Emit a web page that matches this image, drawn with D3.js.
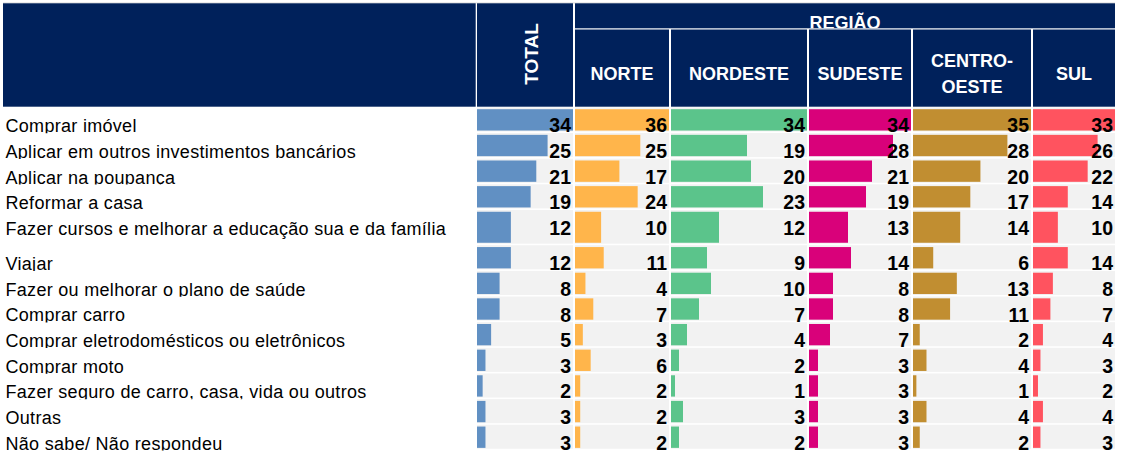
<!DOCTYPE html>
<html>
<head>
<meta charset="utf-8">
<script src="https://cdn.jsdelivr.net/npm/d3@7"></script>
<style>
  html, body { margin: 0; padding: 0; background: #ffffff; }
  svg { display: block; font-family: "Liberation Sans", Arial, sans-serif; }
</style>
</head>
<body>
<div id="chart"></div>
<script>
// ---------------- DATA ----------------
const categories = [
  "Comprar imóvel",
  "Aplicar em outros investimentos bancários",
  "Aplicar na poupança",
  "Reformar a casa",
  "Fazer cursos e melhorar a educação sua e da família",
  "Viajar",
  "Fazer ou melhorar o plano de saúde",
  "Comprar carro",
  "Comprar eletrodomésticos ou eletrônicos",
  "Comprar moto",
  "Fazer seguro de carro, casa, vida ou outros",
  "Outras",
  "Não sabe/ Não respondeu"
];
const seriesNames = ["TOTAL", "NORTE", "NORDESTE", "SUDESTE", "CENTRO-OESTE", "SUL"];
const groupLabel = "REGIÃO";

const total       = [34, 25, 21, 19, 12, 12, 8, 8, 5, 3, 2, 3, 3];
const norte       = [36, 25, 17, 24, 10, 11, 4, 7, 3, 6, 2, 2, 2];
const nordeste    = [34, 19, 20, 23, 12, 9, 10, 7, 4, 2, 1, 3, 2];
const sudeste     = [34, 28, 21, 19, 13, 14, 8, 8, 7, 3, 3, 3, 3];
const centroOeste = [35, 28, 20, 17, 14, 6, 13, 11, 2, 4, 1, 4, 2];
const sul         = [33, 26, 22, 14, 10, 14, 8, 7, 4, 3, 2, 4, 3];

const seriesValues = [total, norte, nordeste, sudeste, centroOeste, sul];

// ---------------- LAYOUT ----------------
const W = 1122, H = 460;
const navy = "#00215b";
const rowBg = "#f2f2f2";
const colors = ["#6190c3", "#ffb54b", "#5bc48b", "#d9017a", "#c18e31", "#ff535f"];

const colLeft  = [477, 575, 671, 809, 913, 1033];
const colRight = [573, 669, 807, 911, 1031, 1115];

const headTop = 3.3, headBottom = 106.7, regiaoLine = 28.3;
const bodyTop = 107;
const normalRowH = 25.64, tallRowH = 35.3;
const rowHeights = categories.map((c, i) => i === 4 ? tallRowH : normalRowH);
const rowTops = rowHeights.map((h, i) => bodyTop + d3.sum(rowHeights.slice(0, i)));

const yTop = d3.scaleOrdinal().domain(categories).range(rowTops);
const yH   = d3.scaleOrdinal().domain(categories).range(rowHeights);

const svg = d3.select("#chart").append("svg")
  .attr("width", W).attr("height", H)
  .attr("viewBox", `0 0 ${W} ${H}`);

// ---------------- HEADER ----------------
const head = svg.append("g");
head.append("line").attr("x1", 3).attr("x2", colRight[5]).attr("y1", headTop - 0.3).attr("y2", headTop - 0.3)
  .attr("stroke", "#d9d9d9").attr("stroke-width", 1);
// left block
head.append("rect").attr("x", 3).attr("y", headTop).attr("width", 475.7 - 3).attr("height", headBottom - headTop).attr("fill", navy);
// total block
head.append("rect").attr("x", colLeft[0]).attr("y", headTop).attr("width", colRight[0] - colLeft[0]).attr("height", headBottom - headTop).attr("fill", navy);
// REGIÃO block
head.append("rect").attr("x", colLeft[1]).attr("y", headTop).attr("width", colRight[5] - colLeft[1]).attr("height", regiaoLine - headTop).attr("fill", navy);
// sub-headers
for (let i = 1; i < 6; i++) {
  head.append("rect").attr("x", colLeft[i]).attr("y", regiaoLine + 1.2)
    .attr("width", colRight[i] - colLeft[i]).attr("height", headBottom - regiaoLine - 1.2).attr("fill", navy);
}
// TOTAL rotated
head.append("text")
  .attr("transform", `translate(537.5,54) rotate(-90)`)
  .attr("text-anchor", "middle")
  .attr("fill", "#fff").attr("font-weight", "bold").attr("font-size", 19)
  .text(seriesNames[0]);
// REGIÃO (clipped at bottom)
svg.append("defs").append("clipPath").attr("id", "clipReg")
  .append("rect").attr("x", colLeft[1]).attr("y", headTop).attr("width", colRight[5] - colLeft[1]).attr("height", regiaoLine - headTop);
head.append("text")
  .attr("clip-path", "url(#clipReg)")
  .attr("x", (colLeft[1] + colRight[5]) / 2).attr("y", 29)
  .attr("text-anchor", "middle")
  .attr("fill", "#fff").attr("font-weight", "bold").attr("font-size", 18)
  .text(groupLabel);
// region names
for (let i = 1; i < 6; i++) {
  const cx = (colLeft[i] + colRight[i]) / 2;
  const name = seriesNames[i];
  const t = head.append("text").attr("text-anchor", "middle")
    .attr("fill", "#fff").attr("font-weight", "bold").attr("font-size", 18);
  if (name.includes("-")) {
    const parts = name.split("-");
    t.append("tspan").attr("x", cx).attr("y", 66.7).text(parts[0] + "-");
    t.append("tspan").attr("x", cx).attr("y", 93.3).text(parts[1]);
  } else {
    t.attr("x", cx).attr("y", 80).text(name);
  }
}

// ---------------- BODY ----------------
const defs = svg.select("defs");
categories.forEach((c, i) => {
  defs.append("clipPath").attr("id", "clipRow" + i)
    .append("rect").attr("x", 0).attr("y", yTop(c)).attr("width", 476).attr("height", yH(c) + 0.6);
});

// labels
svg.append("g").selectAll("text").data(categories).join("text")
  .attr("clip-path", (d, i) => `url(#clipRow${i})`)
  .attr("x", 5.5)
  .attr("y", d => yTop(d) + 25.3)
  .attr("font-size", 18)
  .attr("letter-spacing", 0.3)
  .attr("fill", "#000")
  .text(d => d);

// columns
seriesValues.forEach((vals, ci) => {
  const x = d3.scaleLinear().domain([0, d3.max(vals)]).range([colLeft[ci], colRight[ci]]);
  const g = svg.append("g");
  const rows = categories.map((c, i) => ({ c, v: vals[i] }));
  g.selectAll("rect.bg").data(rows).join("rect").attr("class", "bg")
    .attr("x", colLeft[ci]).attr("width", colRight[ci] - colLeft[ci])
    .attr("y", d => yTop(d.c) + 0.4)
    .attr("height", d => yH(d.c) - 1.6)
    .attr("fill", rowBg);
  g.selectAll("rect.bar").data(rows).join("rect").attr("class", "bar")
    .attr("x", x(0))
    .attr("width", d => x(d.v) - x(0))
    .attr("y", d => yTop(d.c) + 2.2)
    .attr("height", d => yH(d.c) - 4.3)
    .attr("fill", colors[ci]);
  g.selectAll("text").data(rows).join("text")
    .attr("x", colRight[ci] - 2)
    .attr("y", d => yTop(d.c) + 25.4)
    .attr("text-anchor", "end")
    .attr("font-weight", "bold").attr("font-size", 19.5)
    .attr("fill", "#000")
    .text(d => d.v);
});
</script>
</body>
</html>
